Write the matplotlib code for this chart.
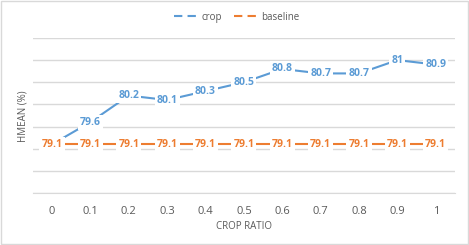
import matplotlib.pyplot as plt
from matplotlib.lines import Line2D
from matplotlib.patches import Rectangle

ratios = ["0", "0.1", "0.2", "0.3", "0.4", "0.5", "0.6", "0.7", "0.8", "0.9", "1"]
crop = [79.1, 79.6, 80.2, 80.1, 80.3, 80.5, 80.8, 80.7, 80.7, 81.0, 80.9]
baseline = [79.1] * 11
crop_labels = ["79.1", "79.6", "80.2", "80.1", "80.3", "80.5", "80.8", "80.7", "80.7", "81", "80.9"]

blue = "#5B9BD5"
orange = "#ED7D31"
grey = "#595959"

plt.rcParams['font.family'] = ['Open Sans', 'DejaVu Sans']

fig = plt.figure(figsize=(4.69, 2.45), dpi=100)
ax = fig.add_axes([0.070, 0.212, 0.900, 0.633])

x = list(range(len(ratios)))
ax.plot(x, crop, color=blue, lw=1.5, zorder=2)
ax.plot(x, baseline, color=orange, lw=1.5, zorder=2)

box = dict(boxstyle="square,pad=0.2", fc="white", ec="none")
for i in x:
    if i > 0:
        ax.text(i, crop[i], crop_labels[i], color=blue, fontsize=7.5, fontweight="bold",
                ha="center", va="center", bbox=box, zorder=3)
    ax.text(i, baseline[i], "79.1", color=orange, fontsize=7.5, fontweight="bold",
            ha="center", va="center", bbox=box, zorder=4)

ax.set_xlim(-0.5, 10.5)
ax.set_ylim(78, 81.5)
ax.set_yticks([78 + 0.5 * k for k in range(8)])
ax.set_yticklabels([])
ax.tick_params(axis="y", length=0)
ax.grid(axis="y", color="#D9D9D9", lw=1)
ax.set_axisbelow(True)
ax.set_xticks(x)
ax.set_xticklabels(ratios, color=grey, fontsize=8)
ax.tick_params(axis="x", length=0, pad=9)
for s in ["top", "right", "left"]:
    ax.spines[s].set_visible(False)
ax.spines["bottom"].set_color("#D9D9D9")

ax.set_xlabel("CROP RATIO", color=grey, fontsize=7, labelpad=3)
fig.text(23 / 469, 1 - 116 / 245, "HMEAN (%)", color=grey, fontsize=7,
         rotation=90, ha="center", va="center")

handles = [Line2D([], [], color=blue, lw=1.5, ls=(0, (4, 2.5))),
           Line2D([], [], color=orange, lw=1.5, ls=(0, (4, 2.5)))]
fig.legend(handles, ["crop", "baseline"], loc="center", bbox_to_anchor=(0.505, 0.93),
           ncol=2, frameon=False, fontsize=7, labelcolor=grey, handlelength=2.6,
           columnspacing=1.2, handletextpad=0.2)

fig.patches.append(Rectangle((0.002, 0.004), 0.995, 0.99, transform=fig.transFigure,
                             fill=False, ec="#D9D9D9", lw=1))

fig.savefig("out.png", dpi=100)
